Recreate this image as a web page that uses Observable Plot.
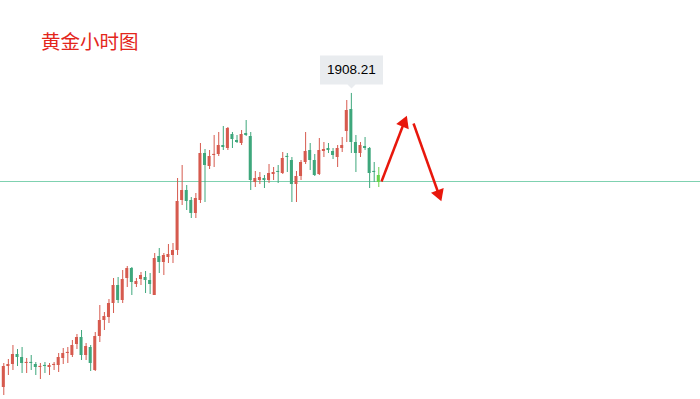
<!DOCTYPE html>
<html><head><meta charset="utf-8">
<script src="https://cdn.jsdelivr.net/npm/d3@7"></script>
<script src="https://cdn.jsdelivr.net/npm/@observablehq/plot@0.6"></script>
<style>
html,body{margin:0;padding:0;background:#fff;}
#wrap{position:relative;width:700px;height:399px;overflow:hidden;}
#title{position:absolute;left:41px;top:31px;z-index:2;font-family:"Noto Sans CJK SC","Noto Sans",sans-serif;font-size:19.5px;font-weight:400;color:#e3261b;line-height:1;letter-spacing:0px;}
#wrap svg{position:absolute;left:0;top:0;}
</style></head>
<body><div id="wrap"><div id="title">黄金小时图</div></div>
<script>
// Gold hourly OHLC
const open  = [1849.4,1853.6,1854.0,1856.0,1855.4,1854.2,1854.2,1854.0,1853.4,1853.6,1853.4,1853.8,1853.8,1855.2,1856.2,1855.8,1858.0,1859.4,1855.8,1857.4,1852.8,1859.6,1862.8,1863.4,1866.2,1869.8,1866.8,1871.2,1873.2,1870.0,1871.0,1871.4,1870.8,1867.8,1875.6,1874.4,1875.4,1875.8,1876.8,1886.8,1888.8,1886.8,1884.2,1886.8,1896.2,1893.6,1895.8,1896.0,1897.8,1897.2,1900.0,1898.8,1898.2,1900.2,1899.6,1890.4,1890.8,1891.2,1890.8,1892.0,1892.4,1892.2,1895.4,1894.8,1890.0,1891.6,1894.4,1896.8,1894.8,1892.0,1896.6,1897.2,1896.6,1895.4,1897.2,1900.6,1905.0,1898.4,1896.2,1897.6,1897.2,1892.4,1891.8];
const high  = [1854.2,1855.0,1857.8,1857.0,1857.4,1855.2,1855.8,1854.4,1854.2,1854.4,1854.2,1854.4,1856.2,1857.2,1857.4,1858.8,1860.0,1860.8,1858.2,1857.8,1860.4,1865.8,1864.4,1867.0,1871.2,1871.4,1872.8,1873.6,1873.4,1871.2,1872.4,1872.6,1872.2,1876.2,1877.2,1876.2,1878.0,1878.2,1891.2,1893.8,1889.8,1887.4,1888.2,1898.2,1897.0,1896.8,1899.8,1900.4,1901.6,1901.4,1900.4,1899.8,1900.8,1902.8,1900.4,1892.6,1892.4,1891.8,1894.0,1893.4,1893.8,1896.4,1896.2,1895.4,1892.6,1894.8,1900.4,1898.2,1896.0,1899.2,1898.4,1898.2,1897.2,1897.8,1899.4,1906.8,1908.21,1899.8,1898.4,1899.4,1897.4,1894.4,1893.4];
const low   = [1847.8,1851.8,1852.8,1853.6,1852.2,1852.2,1852.8,1851.8,1851.0,1852.2,1851.8,1852.8,1852.4,1854.0,1854.2,1855.4,1857.0,1854.8,1854.8,1852.6,1852.6,1858.4,1860.8,1862.2,1864.2,1866.2,1866.2,1869.4,1867.8,1869.4,1869.8,1868.2,1868.0,1867.8,1872.2,1871.8,1874.2,1874.2,1875.8,1885.8,1884.8,1883.2,1883.2,1886.2,1886.4,1893.0,1893.4,1895.6,1896.8,1896.8,1897.2,1898.2,1897.8,1899.6,1888.8,1889.4,1890.0,1889.2,1890.2,1890.8,1890.2,1892.0,1892.4,1886.4,1886.4,1890.8,1894.0,1892.8,1891.6,1891.8,1895.4,1896.2,1895.0,1893.4,1896.4,1898.4,1896.2,1892.4,1895.4,1896.8,1889.2,1890.4,1889.4];
const close = [1853.6,1854.0,1856.0,1855.4,1854.2,1854.4,1854.0,1853.4,1853.6,1853.4,1853.8,1854.0,1855.4,1856.2,1856.4,1857.8,1859.4,1855.8,1857.6,1854.2,1859.6,1862.8,1863.6,1866.2,1869.8,1866.8,1871.0,1873.2,1870.4,1870.6,1871.8,1870.8,1870.0,1875.2,1874.4,1875.8,1876.0,1876.8,1886.6,1888.8,1886.6,1884.2,1887.2,1896.2,1893.8,1895.6,1896.0,1897.8,1897.4,1901.2,1899.0,1898.4,1900.0,1899.8,1890.8,1891.2,1891.4,1890.8,1892.2,1892.4,1892.2,1895.2,1895.2,1890.0,1891.6,1894.4,1896.6,1894.8,1891.8,1896.8,1897.0,1896.8,1895.8,1897.2,1897.8,1904.8,1898.4,1896.2,1897.8,1897.2,1892.2,1892.2,1890.4];
const currentPrice = 1890.6;
const peakLabel = "1908.21";
const peakIndex = 76;
const peakPrice = 1908.21;
// forecast arrows: [startIndex, startPrice, endIndex, endPrice]
const arrowUp   = [82.6, 1890.6, 87.5, 1902.3];
const arrowDown = [89.6, 1902.2, 95.1, 1888.1];

const last = open.length - 1;
const candles = open.map((o, i) => {
  const c = close[i];
  const minBody = 0.22;
  const y2 = Math.abs(c - o) < minBody ? o + minBody : c;
  return {i, o, h: high[i], l: low[i], c, y2,
    col: i === last ? "#67d24a" : (c > o ? "#d65a4e" : "#3ea77c")};
});

const arrows = [
  {x1: arrowUp[0], y1: arrowUp[1], x2: arrowUp[2], y2: arrowUp[3], rot: 22},
  {x1: arrowDown[0], y1: arrowDown[1], x2: arrowDown[2], y2: arrowDown[3], rot: 160}
];

const chart = Plot.plot({
  width: 700, height: 399,
  marginTop: 0, marginBottom: 0, marginLeft: 0, marginRight: 0,
  x: {domain: [-0.72, 152.35], axis: null},
  y: {domain: [1847.0, 1926.8], axis: null},
  style: {background: "transparent", overflow: "visible"},
  marks: [
    Plot.ruleY([currentPrice], {stroke: "#7fd1b0", strokeWidth: 1}),
    Plot.ruleX(candles, {x: "i", y1: "l", y2: "h", stroke: "col", strokeWidth: 1}),
    Plot.rect(candles, {x1: d => d.i - 0.33, x2: d => d.i + 0.33, y1: "o", y2: "y2", fill: "col"}),
    Plot.link(arrows, {x1: "x1", y1: "y1", x2: "x2", y2: "y2", stroke: "#e8170c", strokeWidth: 2.5}),
    Plot.dot(arrows, {x: "x2", y: "y2", symbol: "triangle", r: 5, fill: "#e8170c", stroke: "none", rotate: "rot"}),
    Plot.tip([{i: peakIndex, p: peakPrice}], {
      x: "i", y: "p", title: () => peakLabel, anchor: "bottom", dy: -5,
      fill: "#e9ecef", stroke: "none", pathFilter: "none",
      fontSize: 13.5, fontFamily: "Liberation Sans, Arial, sans-serif",
      textPadding: 7, pointerSize: 8, lineHeight: 1, textColor: "#333"
    })
  ]
});
document.getElementById("wrap").appendChild(chart);
</script>
</body></html>
